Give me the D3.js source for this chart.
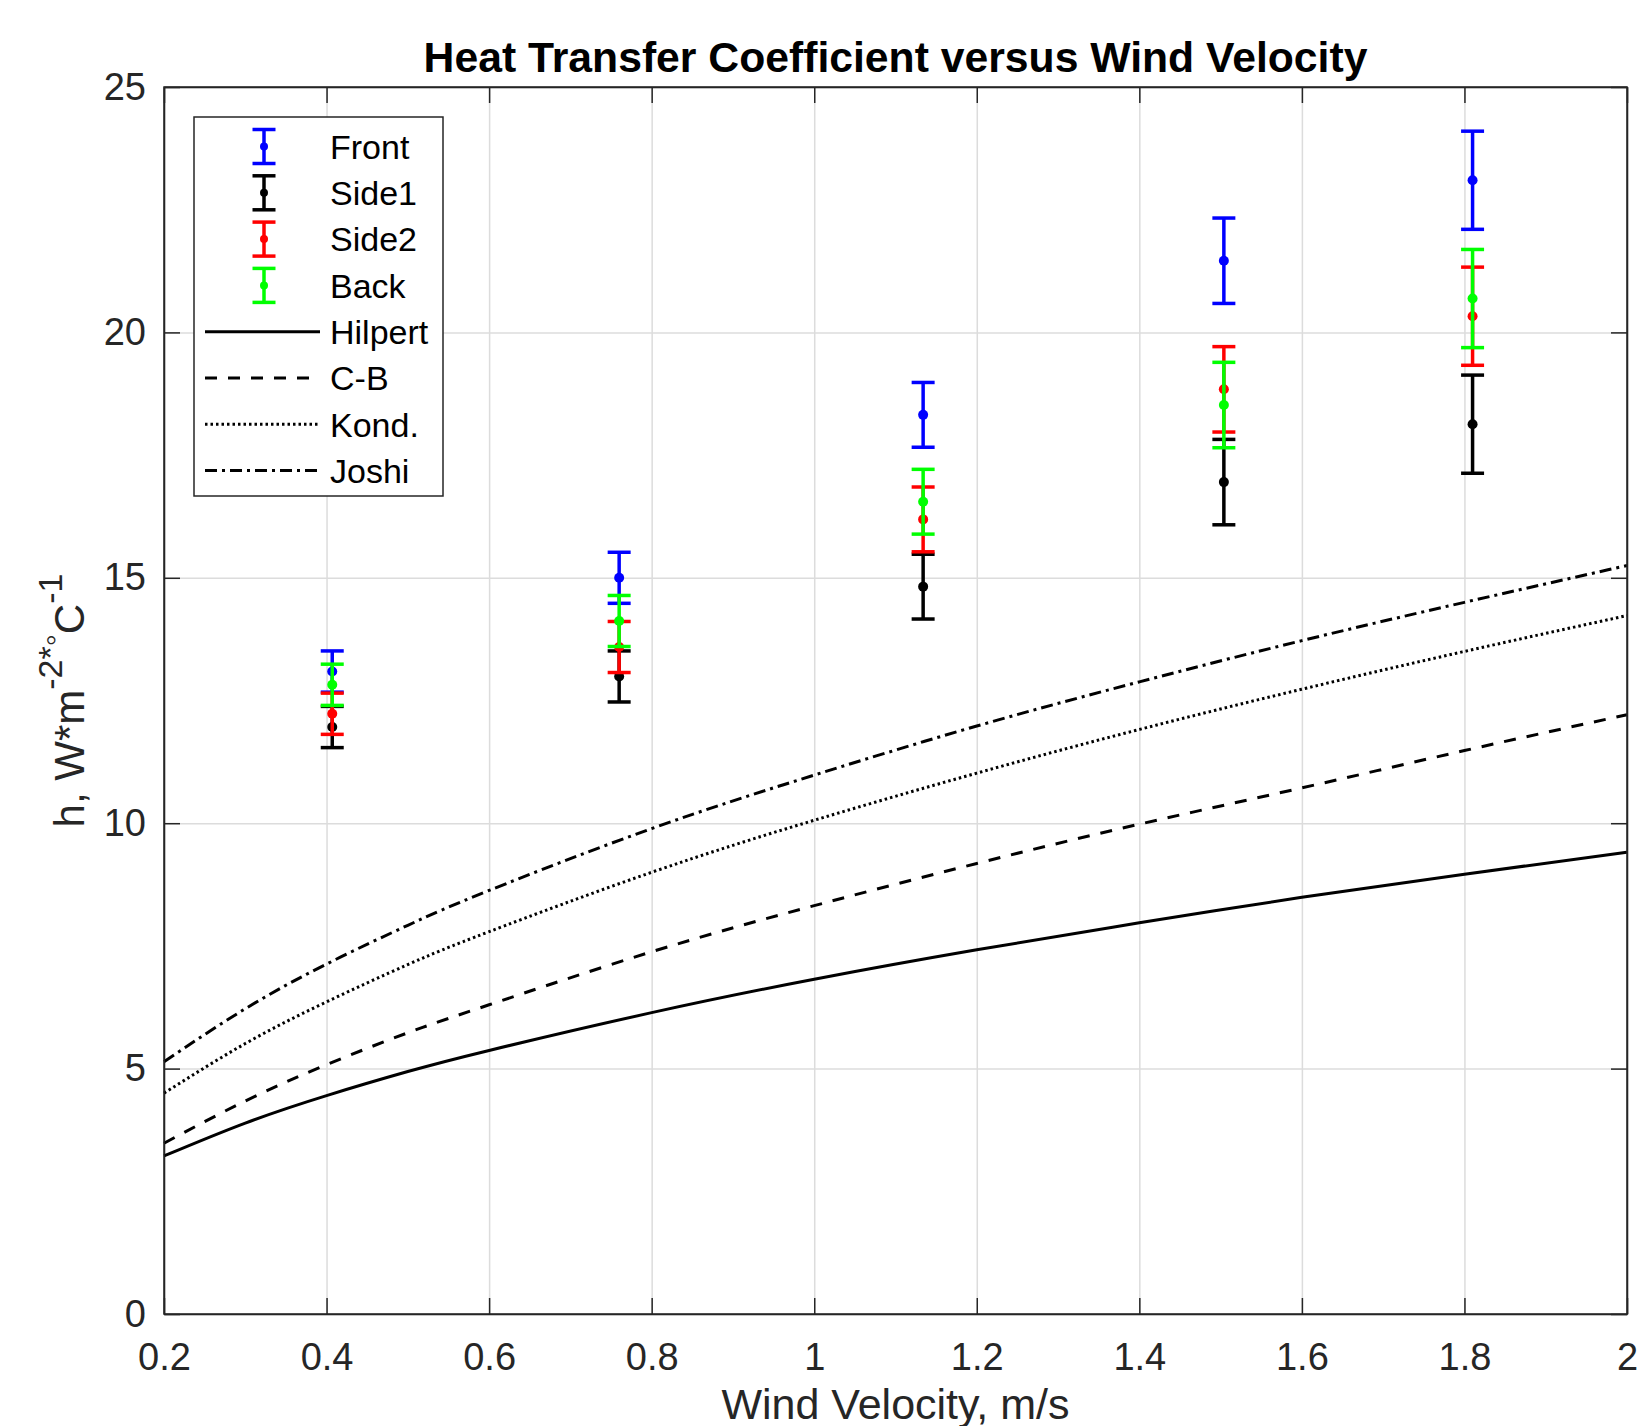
<!DOCTYPE html>
<html>
<head>
<meta charset="utf-8">
<script src="https://cdn.jsdelivr.net/npm/d3@7"></script>
<style>
  body { margin: 0; background: #fff; }
  svg { display: block; font-family: "Liberation Sans", Arial, sans-serif; }
</style>
</head>
<body>
<div id="chart"></div>
<script>
// measured points (wind velocity, m/s) and h for each face
var velocity = [0.407, 0.760, 1.134, 1.504, 1.810];
var front = [13.09, 15.00, 18.32, 21.46, 23.10];
var side1 = [11.96, 12.99, 14.82, 16.95, 18.13];
var side2 = [12.23, 13.59, 16.19, 18.84, 20.33];
var back = [12.82, 14.12, 16.55, 18.52, 20.69];
// error bar half-length, same for every face at a given velocity
var errHalf = [0.42, 0.52, 0.66, 0.87, 1.00];

// correlation curves
var curveV = [0.2, 0.3, 0.4, 0.5, 0.6, 0.8, 1.0, 1.2, 1.4, 1.6, 1.8, 2.0];
var hilpert = [3.22, 3.89, 4.45, 4.94, 5.37, 6.14, 6.82, 7.42, 7.97, 8.49, 8.96, 9.41];
var cb = [3.48, 4.34, 5.08, 5.73, 6.30, 7.38, 8.32, 9.18, 9.98, 10.72, 11.48, 12.21];
var kond = [4.50, 5.51, 6.36, 7.12, 7.79, 9.00, 10.06, 11.02, 11.91, 12.73, 13.50, 14.23];
var joshi = [5.14, 6.22, 7.13, 7.92, 8.63, 9.89, 10.98, 11.98, 12.88, 13.72, 14.50, 15.25];

var xTicks = [0.2, 0.4, 0.6, 0.8, 1, 1.2, 1.4, 1.6, 1.8, 2];
var xTickLabels = ["0.2", "0.4", "0.6", "0.8", "1", "1.2", "1.4", "1.6", "1.8", "2"];
var yTicks = [0, 5, 10, 15, 20, 25];
var yTickLabels = ["0", "5", "10", "15", "20", "25"];

var svgWidth = 1640;
var svgHeight = 1426;
var margin = { top: 87, bottom: 112, right: 13, left: 164 };
var width = svgWidth - margin.left - margin.right;
var height = svgHeight - margin.top - margin.bottom;
var axisColor = "#262626";

var svg = d3.select("#chart")
    .append("svg")
    .attr("width", svgWidth)
    .attr("height", svgHeight);

var chartGroup = svg.append("g")
    .attr("transform", `translate(${margin.left}, ${margin.top})`);

var xScale = d3.scaleLinear().domain([0.2, 2]).range([0, width]);
var yScale = d3.scaleLinear().domain([0, 25]).range([height, 0]);

// grid lines
chartGroup.append("g")
    .attr("class", "grid")
    .attr("transform", `translate(0, ${height})`)
    .call(d3.axisBottom(xScale).tickValues(xTicks).tickSize(-height).tickFormat(""));
chartGroup.append("g")
    .attr("class", "grid")
    .call(d3.axisLeft(yScale).tickValues(yTicks).tickSize(-width).tickFormat(""));
chartGroup.selectAll(".grid .domain").remove();
chartGroup.selectAll(".grid line")
    .attr("stroke", "#dcdcdc")
    .attr("stroke-width", 1.5);

// axes, ticks pointing inward on all four sides
var xAxis = d3.axisBottom(xScale).tickValues(xTicks)
    .tickFormat((d, i) => xTickLabels[i])
    .tickSizeInner(-16).tickSizeOuter(0).tickPadding(29);
var yAxis = d3.axisLeft(yScale).tickValues(yTicks)
    .tickFormat((d, i) => yTickLabels[i])
    .tickSizeInner(-16).tickSizeOuter(0).tickPadding(18);

var xAxisG = chartGroup.append("g")
    .attr("transform", `translate(0, ${height})`)
    .call(xAxis);
var yAxisG = chartGroup.append("g").call(yAxis);
var topG = chartGroup.append("g")
    .call(d3.axisTop(xScale).tickValues(xTicks).tickFormat("").tickSizeInner(-16).tickSizeOuter(0));
var rightG = chartGroup.append("g")
    .attr("transform", `translate(${width}, 0)`)
    .call(d3.axisRight(yScale).tickValues(yTicks).tickFormat("").tickSizeInner(-16).tickSizeOuter(0));

[xAxisG, yAxisG, topG, rightG].forEach(function (g) {
    g.selectAll("path, line").attr("stroke", axisColor).attr("stroke-width", 1.5);
    g.selectAll("text")
        .attr("fill", axisColor)
        .style("font-size", "38px")
        .style("font-family", "'Liberation Sans', Arial, sans-serif");
});

// error bar series
var series = [
    { name: "Front", values: front, color: "#0000ff" },
    { name: "Side1", values: side1, color: "#000000" },
    { name: "Side2", values: side2, color: "#ff0000" },
    { name: "Back", values: back, color: "#00ff00" }
];
var capHalf = 11.5;

series.forEach(function (s) {
    var pts = s.values.map(function (v, i) {
        return { x: velocity[i], y: v, e: errHalf[i] };
    });
    var g = chartGroup.append("g");
    var bars = g.selectAll("g.bar").data(pts).enter().append("g");
    bars.append("line")
        .attr("x1", d => xScale(d.x)).attr("x2", d => xScale(d.x))
        .attr("y1", d => yScale(d.y - d.e)).attr("y2", d => yScale(d.y + d.e));
    bars.append("line")
        .attr("x1", d => xScale(d.x) - capHalf).attr("x2", d => xScale(d.x) + capHalf)
        .attr("y1", d => yScale(d.y + d.e)).attr("y2", d => yScale(d.y + d.e));
    bars.append("line")
        .attr("x1", d => xScale(d.x) - capHalf).attr("x2", d => xScale(d.x) + capHalf)
        .attr("y1", d => yScale(d.y - d.e)).attr("y2", d => yScale(d.y - d.e));
    bars.selectAll("line").attr("stroke", s.color).attr("stroke-width", 3.5);
    bars.append("circle")
        .attr("cx", d => xScale(d.x))
        .attr("cy", d => yScale(d.y))
        .attr("r", 5)
        .attr("fill", s.color);
});

// correlation curves
var curves = [
    { name: "Hilpert", values: hilpert, dash: null },
    { name: "C-B", values: cb, dash: "12,11" },
    { name: "Kond.", values: kond, dash: "2.5,3" },
    { name: "Joshi", values: joshi, dash: "12,5,3,5" }
];
var lineGen = d3.line()
    .x(d => xScale(d[0]))
    .y(d => yScale(d[1]))
    .curve(d3.curveNatural);

curves.forEach(function (c) {
    chartGroup.append("path")
        .datum(curveV.map((v, i) => [v, c.values[i]]))
        .attr("d", lineGen)
        .attr("fill", "none")
        .attr("stroke", "#000")
        .attr("stroke-width", 3)
        .attr("stroke-dasharray", c.dash);
});

// box around plot area
chartGroup.append("rect")
    .attr("width", width)
    .attr("height", height)
    .attr("fill", "none")
    .attr("stroke", axisColor)
    .attr("stroke-width", 1.5);

// legend
var legend = svg.append("g").attr("transform", "translate(194, 117)");
legend.append("rect")
    .attr("width", 249)
    .attr("height", 379)
    .attr("fill", "#fff")
    .attr("stroke", axisColor)
    .attr("stroke-width", 1.5);

var entries = series.map(s => ({ name: s.name, color: s.color, kind: "bar" }))
    .concat(curves.map(c => ({ name: c.name, dash: c.dash, kind: "line" })));

entries.forEach(function (d, i) {
    var cy = 29.5 + i * 46.3;
    var row = legend.append("g");
    if (d.kind === "bar") {
        var cx = 70;
        row.append("line").attr("x1", cx).attr("x2", cx).attr("y1", cy - 17).attr("y2", cy + 17);
        row.append("line").attr("x1", cx - capHalf).attr("x2", cx + capHalf).attr("y1", cy - 17).attr("y2", cy - 17);
        row.append("line").attr("x1", cx - capHalf).attr("x2", cx + capHalf).attr("y1", cy + 17).attr("y2", cy + 17);
        row.selectAll("line").attr("stroke", d.color).attr("stroke-width", 3.5);
        row.append("circle").attr("cx", cx).attr("cy", cy).attr("r", 4).attr("fill", d.color);
    } else {
        row.append("line")
            .attr("x1", 11).attr("x2", 126)
            .attr("y1", cy).attr("y2", cy)
            .attr("stroke", "#000")
            .attr("stroke-width", 3)
            .attr("stroke-dasharray", d.dash);
    }
    row.append("text")
        .attr("x", 136)
        .attr("y", cy)
        .attr("dy", "0.36em")
        .style("font-size", "34px")
        .attr("fill", "#000")
        .text(d.name);
});

// title and axis labels
svg.append("text")
    .attr("x", margin.left + width / 2)
    .attr("y", 72)
    .attr("text-anchor", "middle")
    .style("font-size", "42.7px")
    .style("font-weight", "bold")
    .attr("fill", "#000")
    .text("Heat Transfer Coefficient versus Wind Velocity");

svg.append("text")
    .attr("x", margin.left + width / 2)
    .attr("y", 1419)
    .attr("text-anchor", "middle")
    .style("font-size", "43px")
    .attr("fill", axisColor)
    .text("Wind Velocity, m/s");

var yLabel = svg.append("text")
    .attr("transform", `translate(84, ${margin.top + height / 2}) rotate(-90)`)
    .attr("text-anchor", "middle")
    .style("font-size", "42px")
    .attr("fill", axisColor);
yLabel.append("tspan").text("h, W*m");
yLabel.append("tspan").attr("dy", "-22px").style("font-size", "34px").text("-2*\u25E6");
yLabel.append("tspan").attr("dy", "22px").text("C");
yLabel.append("tspan").attr("dy", "-22px").style("font-size", "34px").text("-1");
</script>
</body>
</html>
